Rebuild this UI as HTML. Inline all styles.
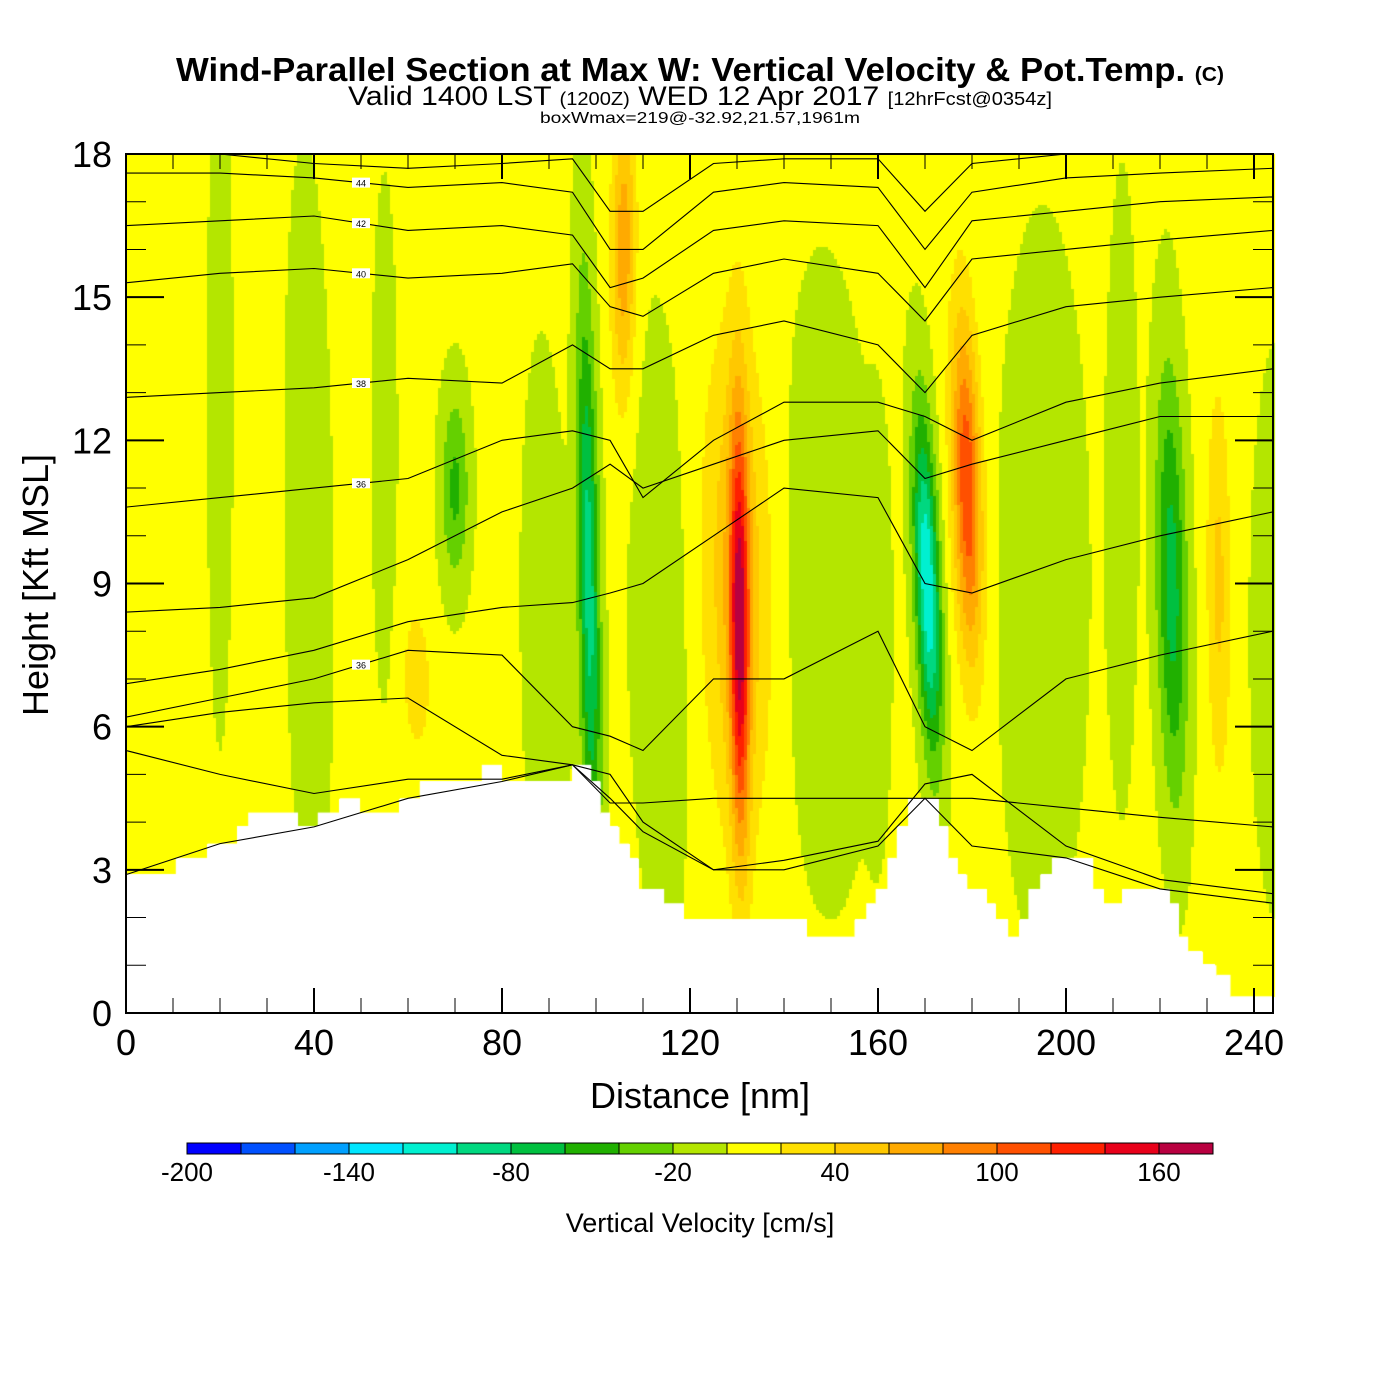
<!DOCTYPE html>
<html><head><meta charset="utf-8">
<style>
body{margin:0;background:#fff;width:1400px;height:1400px;overflow:hidden;font-family:"Liberation Sans",Arial,sans-serif}
#wrap{position:relative;width:1400px;height:1400px}
canvas{position:absolute;left:0;top:0}
svg{position:absolute;left:0;top:0}
</style></head>
<body>
<div id="wrap">
<canvas id="cv" width="1400" height="1400"></canvas>
<svg id="sv" width="1400" height="1400">
<text x="176" y="81" textLength="1048" lengthAdjust="spacingAndGlyphs" font-size="33" font-weight="bold">Wind-Parallel Section at Max W: Vertical Velocity &amp; Pot.Temp. <tspan font-size="20">(C)</tspan></text>
<text x="348" y="105" textLength="704" lengthAdjust="spacingAndGlyphs" font-size="27">Valid 1400 LST <tspan font-size="18">(1200Z)</tspan> WED 12 Apr 2017 <tspan font-size="18">[12hrFcst@0354z]</tspan></text>
<text x="540" y="123" textLength="320" lengthAdjust="spacingAndGlyphs" font-size="16">boxWmax=219@-32.92,21.57,1961m</text>
<text x="700" y="1108" text-anchor="middle" font-size="36">Distance [nm]</text>
<text transform="translate(48,585) rotate(-90)" text-anchor="middle" font-size="36">Height [Kft MSL]</text>
<text x="700" y="1232" text-anchor="middle" font-size="27">Vertical Velocity [cm/s]</text>
</svg>
</div>
<script>
// ---- data ----
const xTicks=[0,40,80,120,160,200,240];
const yTicks=[0,3,6,9,12,15,18];
const cbLevels=[-200,-180,-160,-140,-120,-100,-80,-60,-40,-20,0,20,40,60,80,100,120,140,160,180];
const cbLabels=[-200,-140,-80,-20,40,100,160];
const cbColors=["#0000ff","#0050ff","#00a0ff","#00e6ff","#00f0d0","#00d880","#00c040","#20b000","#64d000","#b4e600","#ffff00","#ffe000","#ffc800","#ffaa00","#ff8000","#ff5000","#ff2000","#e8001a","#b80040"];
// updraft/downdraft cells
const cellXBot=[100,105,131,131,174,182,224,70,63,233,90,150,40,115,195,20,55,160,212,245];
const cellXTop=[97,106,130,129,167,177,221,70,60,232,88,148,38,112,195,20,55,160,212,245];
const cellH=  [9,16,8,9,9,11,9,11,7,9,8,9,10,8,9,13,12,8,11,8];
const cellAmp=[-95,70,125,55,-125,115,-75,-50,30,40,-15,-20,-15,-20,-18,-12,-12,-18,-18,-22];
const cellSx= [2.2,2.5,2.0,7,2.6,3,3.2,3,3,2.5,5,9,5,6,9,3,3,2.5,3,5];
const cellSh= [6,3,4.5,5,3.5,3.5,4.5,2,1.5,4,6,6,8,6,7,8,6,4,6,5];
// terrain steps
const terrX=[0,10.6,17.4,23.8,26,36.6,40.8,45.5,49.8,58.3,62.5,75.7,80,94.9,99,101,103,105,107,109,114.5,118.7,144.7,155,157.5,159.5,162,164,166.4,172.8,175,177,179,183,185,187.7,190,192,194.5,197,205.8,208,212,220,222,224,226,229,232,235,240];
const terrH=[2.9,3.25,3.55,3.9,4.2,3.9,4.2,4.5,4.2,4.5,4.85,5.2,4.85,5.2,4.85,4.2,3.9,3.55,3.25,2.6,2.3,1.95,1.6,1.95,2.3,2.6,3.25,3.9,4.5,3.9,3.25,2.9,2.6,2.3,1.95,1.6,1.95,2.6,2.9,3.25,2.6,2.3,2.6,2.6,2.3,1.6,1.3,1.0,0.8,0.35,0.35];
// potential temperature contours
const contX=[0,20,40,60,80,95,103,110,125,140,160,170,180,200,220,244];
const contLines=[
[2.7,2.9,3.2,3.6,4.0,4.3,4.4,4.4,4.5,4.5,4.5,4.5,4.5,4.3,4.1,3.9],
[5.5,5.0,4.6,4.9,4.9,5.2,4.5,3.8,3.0,3.0,3.5,4.5,3.5,3.0,2.5,2.3],
[6.0,6.3,6.5,6.6,5.4,5.2,5.0,4.0,3.0,3.2,3.6,4.8,5.0,3.5,2.8,2.5],
[6.2,6.6,7.0,7.6,7.5,6.0,5.8,5.5,7.0,7.0,8.0,6.0,5.5,7.0,7.5,8.0],
[6.9,7.2,7.6,8.2,8.5,8.6,8.8,9.0,10.0,11.0,10.8,9.0,8.8,9.5,10.0,10.5],
[8.4,8.5,8.7,9.5,10.5,11.0,11.5,11.0,11.5,12.0,12.2,11.2,11.5,12.0,12.5,12.5],
[10.6,10.8,11.0,11.2,12.0,12.2,12.0,10.8,12.0,12.8,12.8,12.5,12.0,12.8,13.2,13.5],
[12.9,13.0,13.1,13.3,13.2,14.0,13.5,13.5,14.2,14.5,14.0,13.0,14.2,14.8,15.0,15.2],
[15.3,15.5,15.6,15.4,15.5,15.7,14.8,14.6,15.5,15.8,15.5,14.5,15.8,16.0,16.2,16.4],
[16.5,16.6,16.7,16.4,16.5,16.3,15.2,15.4,16.4,16.6,16.5,15.2,16.6,16.8,17.0,17.1],
[17.6,17.6,17.5,17.3,17.4,17.2,16.0,16.0,17.2,17.4,17.3,16.0,17.2,17.5,17.6,17.7],
[18.0,18.0,17.8,17.7,17.8,17.9,16.8,16.8,17.8,17.9,17.9,16.8,17.8,18.0,18.0,18.0]
];
const contLabels=[null,null,null,"36",null,null,"36","38","40","42","44",null];
// ---- axes ----
const X0=126,X1=1273,Y0=1013,Y1=154;
const xs=d=>X0+d*(1128/240);
const ys=h=>Y0-h*(Y0-Y1)/18;
const XMAX=(X1-X0)/(1128/240);
function terrainAt(d){let h=0;for(let i=0;i<terrX.length;i++){if(d>=terrX[i])h=terrH[i];}return h;}
function field(d,h){
  let w=5;
  for(let i=0;i<cellAmp.length;i++){
    const t=Math.min(1,Math.max(0,h/18));
    const xc=cellXBot[i]+(cellXTop[i]-cellXBot[i])*t;
    const dx=(d-xc)/cellSx[i], dh=(h-cellH[i])/cellSh[i];
    w+=cellAmp[i]*Math.exp(-dx*dx-dh*dh);
  }
  return w;
}
const cv=document.getElementById('cv');const ctx=cv.getContext('2d');
ctx.fillStyle='#fff';ctx.fillRect(0,0,1400,1400);
const step=3;
for(let px=X0;px<X1;px+=step){
  const d=(px+step/2-X0)/(1128/240);
  const th=terrainAt(d);
  for(let py=Y1;py<Y0;py+=step){
    const h=(Y0-(py+step/2))*18/(Y0-Y1);
    if(h<th)continue;
    const w=field(d,h);
    let k=Math.floor((w+200)/20);k=Math.max(0,Math.min(18,k));
    ctx.fillStyle=cbColors[k];
    ctx.fillRect(px,py,step,step);
  }
}
ctx.fillStyle='#fff';
for(let i=0;i<terrX.length;i++){
  const a=terrX[i],b=i+1<terrX.length?terrX[i+1]:XMAX;
  const x0=xs(a),x1=Math.min(X1,xs(b));
  ctx.fillRect(x0,ys(terrH[i]),x1-x0,Y0-ys(terrH[i]));
}
const NS='http://www.w3.org/2000/svg';
const sv=document.getElementById('sv');
function mk(t,a,p){const e=document.createElementNS(NS,t);for(const k in a)e.setAttribute(k,a[k]);(p||sv).appendChild(e);return e;}
const cg=mk('g',{});


contLines.forEach((ln,j)=>{
  let pts=[];
  contX.forEach((d,i)=>{
    let h=ln[i];
    pts.push(xs(Math.min(d,XMAX)).toFixed(1)+','+ys(Math.min(18,Math.max(terrainAt(d),h))).toFixed(1));
  });
  const p=mk('polyline',{points:pts.join(' '),fill:'none',stroke:'#000','stroke-width':1.1},cg);
  
  
  if(contLabels[j]){
    const i=2;const lx=xs(contX[i]+10),ly=ys((ln[i]+ln[i+1])/2);
    mk('rect',{x:lx-9,y:ly-5,width:18,height:10,fill:'#fff'},cg);
    const t=mk('text',{x:lx,y:ly+4,'font-size':9,'text-anchor':'middle'},cg);t.textContent=contLabels[j];
    
    
  }
});
const ag=mk('g',{stroke:'#000','stroke-width':2});


mk('rect',{x:X0,y:Y1,width:X1-X0,height:Y0-Y1,fill:'none'},ag);
for(let d=10;d<XMAX;d+=10){
  const L=d%40===0?25:15;
  mk('line',{x1:xs(d),y1:Y0,x2:xs(d),y2:Y0-L,'stroke-width':d%40===0?2:1},ag);
  mk('line',{x1:xs(d),y1:Y1,x2:xs(d),y2:Y1+L,'stroke-width':d%40===0?2:1},ag);
}
for(let h=1;h<18;h++){
  const L=h%3===0?38:20;
  mk('line',{x1:X0,y1:ys(h),x2:X0+L,y2:ys(h),'stroke-width':h%3===0?2:1},ag);
  mk('line',{x1:X1,y1:ys(h),x2:X1-L,y2:ys(h),'stroke-width':h%3===0?2:1},ag);
}
xTicks.forEach(v=>{const t=mk('text',{x:xs(v),y:1055,'font-size':36,'text-anchor':'middle'});t.textContent=v;
});
yTicks.forEach(v=>{const t=mk('text',{x:112,y:ys(v)+13,'font-size':36,'text-anchor':'end'});t.textContent=v;
});
const CB0=187,CB1=1213,cw=(CB1-CB0)/cbColors.length;
const cbg=mk('g',{});


cbColors.forEach((c,i)=>{const r=mk('rect',{x:CB0+i*cw,y:1143,width:cw,height:11,fill:c,stroke:'#000','stroke-width':1},cbg);
});
cbLabels.forEach(v=>{const i=cbLevels.indexOf(v);const t=mk('text',{x:CB0+i*cw,y:1181,'font-size':26,'text-anchor':'middle'},cbg);t.textContent=v;
});
</script>
</body></html>
